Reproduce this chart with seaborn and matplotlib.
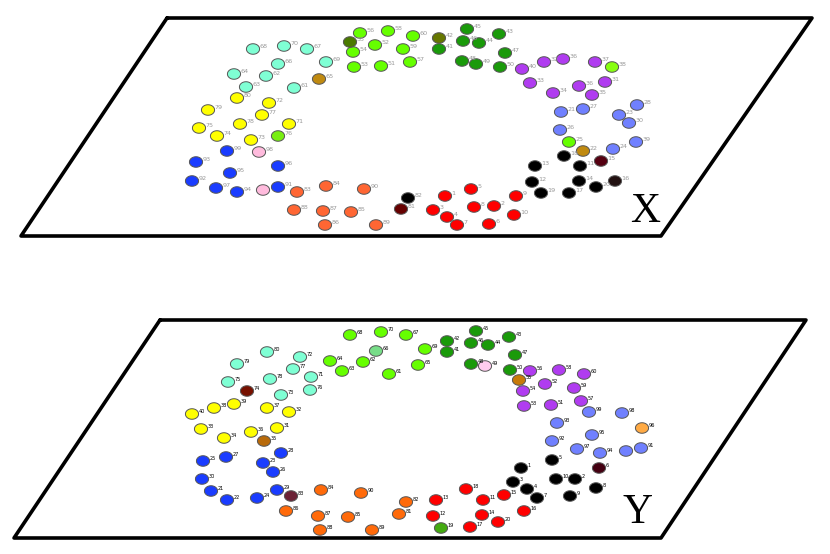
#!/usr/bin/env python3

import numpy as np
import pandas as pd
import seaborn as sns
from matplotlib import pyplot as plt

# plane outlines (image coords, y down)
plane_x_corners = [(167, 18), (812, 18), (661, 236), (21, 236), (167, 18)]
plane_y_corners = [(160, 320), (806, 320), (661, 538), (14, 538), (160, 320)]

CY, YE, BL, LB, PU, GR, DG, RD, BK = ('#7fffd4', '#ffff00', '#1a3cff', '#7080ff',
                                      '#b03cf0', '#66ff00', '#1a9a0a', '#ff0000', '#000000')

# top plane "X"
x_px = [253, 284, 307, 278, 234, 266, 326, 246, 294, 319,
        237, 269, 208, 262, 240, 289, 199, 217, 251, 278,
        227, 196, 278, 230, 192, 216, 237, 278, 259, 263,
        297, 326, 364, 294, 323, 351, 325, 376, 408, 401,
        445, 471, 433, 447, 457, 474, 494, 489, 516, 514,
        535, 532, 541, 564, 580, 579, 569, 596, 601, 615, 569, 583,
        561, 583, 637, 619, 629, 560, 613, 636,
        522, 544, 563, 595, 530, 553, 579, 592, 605, 612,
        467, 463, 479, 499, 439, 505, 462, 476, 500, 439,
        360, 388, 413, 353, 375, 403, 354, 381, 410, 350]
x_py = [49, 46, 49, 64, 74, 76, 62, 87, 88, 79,
        98, 103, 110, 115, 124, 124, 128, 136, 140, 136,
        151, 162, 166, 173, 181, 188, 192, 187, 152, 190,
        192, 186, 189, 210, 211, 212, 225, 225, 198, 209,
        196, 189, 210, 217, 225, 207, 206, 224, 196, 215,
        166, 182, 193, 156, 166, 181, 193, 187, 161, 181, 142, 151,
        112, 109, 105, 115, 123, 130, 149, 142,
        69, 62, 59, 62, 83, 93, 86, 95, 82, 67,
        29, 41, 43, 34, 49, 53, 61, 64, 67, 38,
        33, 31, 36, 52, 45, 49, 67, 66, 62, 42]
x_color = ([CY] * 9 + ['#c08a10'] + [YE] * 9 + ['#77ee11'] +
           [BL] * 8 + ['#ffbbdd'] * 2 +
           ['#ff6633'] * 8 + [BK, '#660000'] +
           [RD] * 10 +
           [BK] * 8 + ['#550011', '#221111', GR, '#c08a10'] +
           [LB] * 8 +
           [PU] * 9 + ['#88ff11'] +
           [DG] * 9 + ['#667700'] +
           [GR] * 9 + ['#4a7a00'])
x_label = ['68', '70', '67', '66', '64', '62', '69', '63', '61', '65',
           '80', '72', '79', '77', '78', '71', '75', '74', '73', '76',
           '99', '93', '96', '95', '92', '97', '94', '91', '98', '',
           '83', '84', '90', '88', '87', '85', '86', '89', '82', '81',
           '1', '5', '3', '4', '7', '8', '2', '6', '9', '10',
           '13', '12', '19', '18', '11', '14', '17', '20', '15', '16', '25', '22',
           '21', '27', '28', '23', '30', '26', '24', '39',
           '40', '32', '36', '37', '33', '34', '36', '35', '31', '38',
           '45', '46', '44', '43', '41', '47', '48', '49', '50', '42',
           '56', '58', '60', '54', '52', '59', '53', '51', '57', '55']

# bottom plane "Y"
y_px = [350, 381, 406, 330, 363, 342, 389, 425, 418, 376,
        267, 300, 237, 293, 270, 311, 228, 310, 281, 247,
        234, 214, 192, 267, 289, 201, 277, 251, 224, 264,
        281, 203, 226, 263, 273, 202, 277, 211, 227, 257, 291,
        321, 361, 286, 318, 348, 320, 372, 406, 399,
        436, 433, 466, 483, 504, 482, 470, 498, 524, 441,
        521, 513, 527, 537, 552, 556, 575, 570, 596, 599,
        552, 577, 600, 592, 557, 589, 622, 626, 641, 642,
        530, 559, 584, 545, 574, 523, 581, 524, 551, 519,
        447, 447, 476, 471, 488, 509, 515, 471, 510, 485]
y_py = [335, 332, 335, 361, 362, 371, 374, 349, 365, 351,
        352, 357, 364, 369, 379, 377, 382, 390, 395, 391,
        404, 408, 414, 408, 412, 429, 428, 432, 438, 441,
        453, 461, 457, 463, 472, 479, 490, 491, 500, 498, 496,
        490, 493, 511, 516, 517, 530, 530, 502, 514,
        500, 516, 489, 500, 495, 515, 527, 522, 511, 528,
        468, 482, 489, 498, 460, 479, 479, 496, 488, 468,
        441, 449, 453, 435, 423, 412, 413, 451, 448, 428,
        371, 370, 374, 384, 388, 391, 401, 406, 405, 380,
        341, 352, 331, 343, 345, 337, 355, 364, 370, 366]
y_color = ([GR] * 9 + ['#77dd88'] +
           [CY] * 9 + ['#771100'] +
           [YE] * 9 + ['#b86a0a'] +
           [BL] * 10 + ['#6b2236'] +
           ['#ff6a0a'] * 9 +
           [RD] * 9 + ['#44aa11'] +
           [BK] * 9 + ['#440011'] +
           [LB] * 9 + ['#ffaa44'] +
           [PU] * 9 + ['#c87a08'] +
           [DG] * 9 + ['#ffccee'])
y_label = ['68', '70', '67', '64', '62', '63', '61', '69', '65', '66',
           '80', '72', '79', '77', '78', '71', '75', '76', '73', '74',
           '39', '38', '40', '37', '32', '33', '31', '36', '34', '35',
           '28', '25', '27', '23', '26', '30', '29', '21', '22', '24', '83',
           '84', '90', '86', '87', '85', '88', '89', '82', '81',
           '13', '12', '18', '11', '15', '14', '17', '20', '16', '19',
           '1', '3', '4', '7', '5', '10', '2', '9', '8', '6',
           '92', '97', '94', '95', '93', '99', '98', '', '91', '96',
           '56', '58', '60', '52', '59', '54', '57', '53', '51', '55',
           '42', '41', '45', '46', '44', '43', '47', '48', '50', '49']

plane_names = ['X', 'Y']
plane_name_pos = [(645, 212), (637, 513)]


def draw_plane(ax, corners, xs, ys, colors, labels, label_color, label_size):
    cx, cy = zip(*corners)
    sns.lineplot(x=list(cx), y=list(cy), sort=False, estimator=None,
                 color='black', linewidth=2.6, ax=ax)

    df = pd.DataFrame({'x': xs, 'y': ys, 'color': colors})
    t = np.linspace(0, 2 * np.pi, 40)
    ellipse = np.column_stack([np.cos(t), 0.8 * np.sin(t)])
    sns.scatterplot(data=df, x='x', y='y', hue='color',
                    palette={c: c for c in df['color'].unique()},
                    marker=ellipse, s=90, edgecolor='#555555',
                    linewidth=0.7, legend=False, zorder=3, ax=ax)

    for x, y, lbl in zip(xs, ys, labels):
        ax.annotate(lbl, (x, y), xytext=(4.8, 2.0), textcoords='offset points',
                    ha='left', va='center', fontsize=label_size,
                    color=label_color)


def plot(out_file):
    sns.set_style('white')

    f = plt.figure(figsize=(8.3, 5.54), dpi=100)
    ax = f.add_axes([0, 0, 1, 1])

    draw_plane(ax, plane_x_corners, x_px, x_py, x_color, x_label, '#999999', 4.6)
    draw_plane(ax, plane_y_corners, y_px, y_py, y_color, y_label, 'black', 3.6)

    for name, (px, py) in zip(plane_names, plane_name_pos):
        ax.text(px, py, name, ha='center', va='center', fontsize=30,
                family='Liberation Serif', color='black')

    ax.set_xlim(0, 830)
    ax.set_ylim(554, 0)
    ax.axis('off')

    f.savefig(out_file, dpi=100)


if __name__ == '__main__':
    plot('out.png')
